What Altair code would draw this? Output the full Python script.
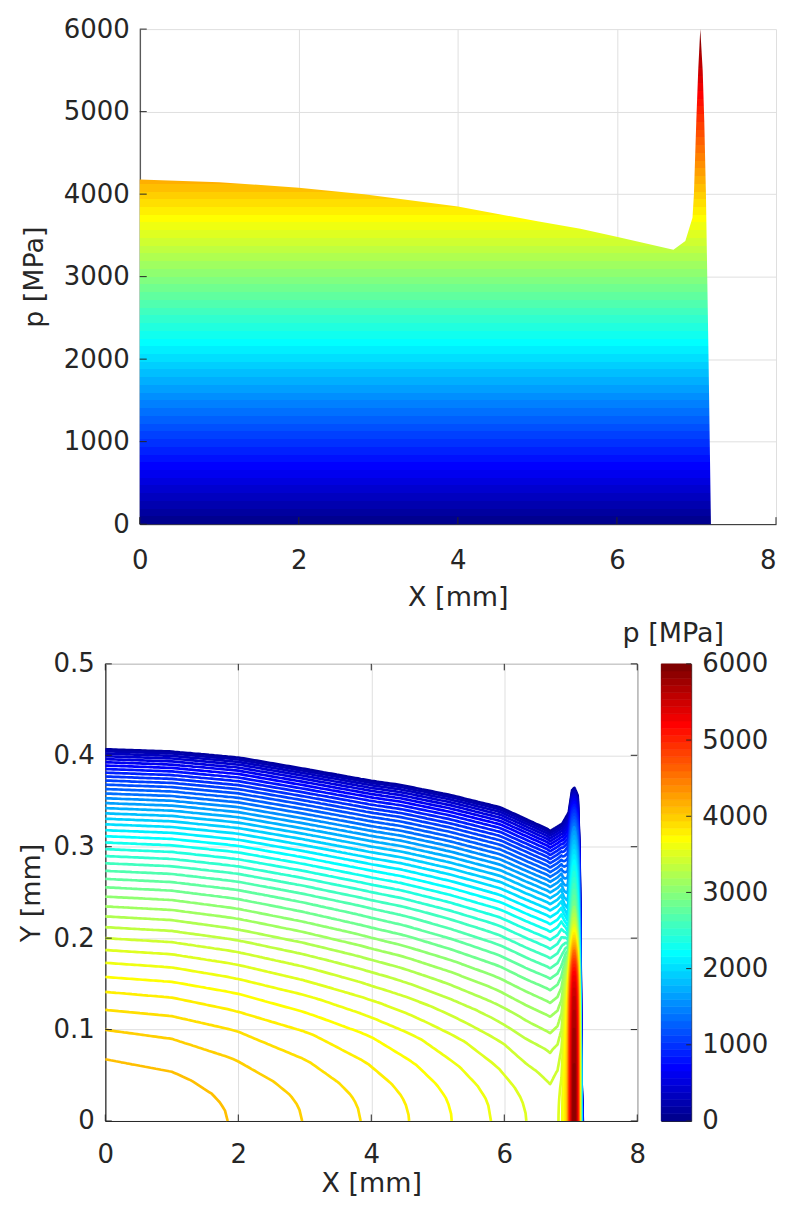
import numpy as np
import pandas as pd
import altair as alt

alt.data_transformers.disable_max_rows()

FONT = "DejaVu Sans"
INK = "#262626"
GRID = "#dfdfdf"

X_TICKS = [0, 2, 4, 6, 8]
P_TICKS = [0, 1000, 2000, 3000, 4000, 5000, 6000]
Y_TICKS = [0, 0.1, 0.2, 0.3, 0.4, 0.5]

# ---------------- upper panel: centre-line pressure p(X) [MPa] ----------------
TOP_X = [0.0, 1.0, 2.0, 2.82, 4.0, 5.0, 5.54, 6.01, 6.71, 6.86, 6.95, 6.968,
         6.998, 7.022, 7.048, 7.078, 7.098, 7.119, 7.152, 7.182]
TOP_P = [4178, 4145, 4077, 4000, 3851, 3670, 3580, 3480, 3327, 3431, 3714, 4000,
         4890, 5500, 6000, 5500, 4890, 4000, 2000, 0]

# ---------------- lower panel: pressure field p(X, Y) ----------------
# centre-line pressure implied by where the contours reach Y = 0
FIELD_X = [0.0, 1.0, 1.84, 2.96, 3.84, 4.57, 5.21, 5.80, 6.33, 6.69, 6.80, 6.86,
           6.90, 6.95, 6.97, 7.00, 7.025, 7.05, 7.075, 7.10, 7.12, 7.135, 7.15,
           7.165, 7.182]
FIELD_P = [4190, 4160, 4100, 4000, 3900, 3800, 3700, 3600, 3500, 3445, 3480, 3560,
           3700, 4000, 4400, 5100, 5600, 6000, 5600, 4900, 4100, 3300, 2300,
           1200, 0]
# contact half-width (outermost contour)
WIDTH_X = [0.0, 1.0, 2.0, 3.0, 4.0, 4.44, 5.19, 5.94, 6.645, 6.69, 6.87, 6.97,
           7.02, 7.055, 7.105, 7.13, 7.145, 7.16, 7.182]
WIDTH_Y = [0.408, 0.4055, 0.399, 0.3865, 0.3735, 0.369, 0.358, 0.3445, 0.321,
           0.3185, 0.3265, 0.341, 0.3645, 0.367, 0.359, 0.305, 0.215, 0.05, 0.0]
# cross-section at X = 0: Y position of each pressure level
SECTION_A_LEVEL = list(range(0, 4200, 100)) + [4150, 4173, 4182, 4188, 4190]
SECTION_A_Y = [0.408, 0.4066, 0.4045, 0.4019, 0.3990, 0.3958, 0.3924, 0.3888,
               0.3850, 0.3810, 0.3768, 0.3724, 0.3679, 0.3631, 0.3582, 0.3530,
               0.3477, 0.3422, 0.3365, 0.3306, 0.3245, 0.3181, 0.3115, 0.3046,
               0.2974, 0.2898, 0.2819, 0.2736, 0.2648, 0.2556, 0.2455, 0.2347,
               0.2238, 0.2120, 0.2000, 0.1870, 0.1730, 0.1575, 0.1412, 0.1215,
               0.0997, 0.0675, 0.045, 0.030, 0.020, 0.010, 0.0]
SECTION_A_REF = (4190.0, 0.408)
# cross-section through the edge peak (X = 7.05)
SECTION_B_LEVEL = [0, 100, 500, 1000, 1500, 2000, 2300, 2600, 3000, 3500, 4000,
                   4500, 5000, 5300, 5600, 5800, 5900, 5970, 6000]
SECTION_B_Y = [0.367, 0.3645, 0.355, 0.340, 0.322, 0.297, 0.280, 0.260, 0.235,
               0.215, 0.200, 0.187, 0.172, 0.160, 0.140, 0.110, 0.080, 0.040, 0.0]
SECTION_B_REF = (6000.0, 0.367)
BLEND_X = [6.86, 6.97]
BLEND_W = [0.0, 1.0]
CONTOUR_LEVELS = list(range(100, 6000, 100))


def jet64():
    cols = []
    for i in range(1, 65):
        r = 0 if i <= 24 else (i - 24) / 16 if i <= 40 else 1 if i <= 55 else (72 - i) / 16
        g = 0 if i <= 8 else (i - 8) / 16 if i <= 24 else 1 if i <= 39 else (56 - i) / 16 if i <= 55 else 0
        b = (i + 8) / 16 if i <= 8 else 1 if i <= 23 else (40 - i) / 16 if i <= 39 else 0
        cols.append("#%02x%02x%02x" % (round(r * 255), round(g * 255), round(b * 255)))
    return cols


JET = jet64()

# ---------------- contour extraction ----------------
xs = np.round(np.concatenate([np.arange(0.0, 6.6, 0.04), np.arange(6.6, 7.19, 0.004)]), 4)
pf = np.interp(xs, FIELD_X, FIELD_P)
bw = np.interp(xs, WIDTH_X, WIDTH_Y)
wb = np.interp(xs, BLEND_X, BLEND_W)
rows = []
piece = 0
for c in CONTOUR_LEVELS:
    inside = pf > c
    if not inside.any():
        continue
    safe = np.where(inside, pf, 1.0)
    ya = np.interp(c * SECTION_A_REF[0] / safe, SECTION_A_LEVEL, SECTION_A_Y) * bw / SECTION_A_REF[1]
    yb = np.interp(c * SECTION_B_REF[0] / safe, SECTION_B_LEVEL, SECTION_B_Y) * bw / SECTION_B_REF[1]
    yc = (1 - wb) * ya + wb * yb
    idx = np.flatnonzero(inside)
    brk = np.flatnonzero(np.diff(idx) > 1)
    starts = np.r_[idx[0], idx[brk + 1]]
    ends = np.r_[idx[brk], idx[-1]]
    for s, e in zip(starts, ends):
        pts = []
        if s > 0:
            x0, x1, p0, p1 = xs[s - 1], xs[s], pf[s - 1], pf[s]
            pts.append((x0 + (c - p0) / (p1 - p0) * (x1 - x0), 0.0))
        pts += [(xs[k], yc[k]) for k in range(s, e + 1)]
        if e < len(xs) - 1:
            x0, x1, p0, p1 = xs[e], xs[e + 1], pf[e], pf[e + 1]
            pts.append((x0 + (p0 - c) / (p0 - p1) * (x1 - x0), 0.0))
        for x, y in pts:
            rows.append({"piece": piece, "level": c, "x": round(float(x), 4), "y": round(float(y), 4)})
        piece += 1
cdf = pd.DataFrame(rows)

jet_scale = alt.Scale(type="quantize", domain=[0, 6000], range=JET)

# ---------------- upper chart ----------------
TW, TH, XOFF = 672, 496, 34.5
x_top = alt.Scale(domain=[0, 8], range=[XOFF, TW], nice=False, zero=False)
y_top = alt.Scale(domain=[0, 6000], nice=False)
stops = []
for k, col in enumerate(JET):
    stops.append(alt.GradientStop(color=col, offset=k / 64))
    stops.append(alt.GradientStop(color=col, offset=(k + 1) / 64))
grad = alt.Gradient(gradient="linear", x1=0, x2=0, y1=1, y2=0, stops=stops)

top_df = pd.DataFrame({"x": TOP_X, "p": TOP_P})
area = alt.Chart(top_df).mark_area(fill=grad, interpolate="linear").encode(
    x=alt.X("x:Q", scale=x_top,
            axis=alt.Axis(values=X_TICKS, format="d", title="X [mm]", labelPadding=23,
                          titlePadding=12,
                          labelAlign={"expr": "datum.value == 8 ? 'right' : 'center'"})),
    y=alt.Y("p:Q", scale=y_top,
            axis=alt.Axis(values=P_TICKS, format="d", title="p [MPa]", offset=-XOFF,
                          labelPadding=10.5, titlePadding=15)),
)
top_tb = alt.Chart(pd.DataFrame({"x": X_TICKS})).mark_rule(color=INK, strokeWidth=1).encode(
    x=alt.X("x:Q", scale=x_top), y=alt.value(TH), y2=alt.value(TH - 7))
top_tl = alt.Chart(pd.DataFrame({"p": P_TICKS})).mark_rule(color=INK, strokeWidth=1).encode(
    y=alt.Y("p:Q", scale=y_top), x=alt.value(XOFF), x2=alt.value(XOFF + 7))
top = alt.layer(area, top_tb, top_tl).properties(width=TW, height=TH)

# ---------------- lower chart ----------------
BW, BH, TL = 533, 458, 6.5
x_bot = alt.Scale(domain=[0, 8], nice=False, zero=False)
y_bot = alt.Scale(domain=[0, 0.5], nice=False)
lines = alt.Chart(cdf).mark_line(strokeWidth=2.7, strokeJoin="round").encode(
    x=alt.X("x:Q", scale=x_bot,
            axis=alt.Axis(values=X_TICKS, format="d", title="X [mm]", labelPadding=21, titlePadding=3)),
    y=alt.Y("y:Q", scale=y_bot,
            axis=alt.Axis(values=Y_TICKS, format="~g", title="Y [mm]", labelPadding=11, titlePadding=8)),
    color=alt.Color("level:Q", scale=jet_scale, legend=None),
    detail="piece:N",
)
xt = pd.DataFrame({"x": X_TICKS})
yt = pd.DataFrame({"y": Y_TICKS})
b_tb = alt.Chart(xt).mark_rule(color=INK).encode(x=alt.X("x:Q", scale=x_bot), y=alt.value(BH), y2=alt.value(BH - TL))
b_tt = alt.Chart(xt).mark_rule(color=INK).encode(x=alt.X("x:Q", scale=x_bot), y=alt.value(0), y2=alt.value(TL))
b_tl = alt.Chart(yt).mark_rule(color=INK).encode(y=alt.Y("y:Q", scale=y_bot), x=alt.value(0), x2=alt.value(TL))
b_tr = alt.Chart(yt).mark_rule(color=INK).encode(y=alt.Y("y:Q", scale=y_bot), x=alt.value(BW), x2=alt.value(BW - TL))
bottom = alt.layer(lines, b_tb, b_tt, b_tl, b_tr).properties(
    width=BW, height=BH, view=alt.ViewBackground(stroke=INK, strokeWidth=1))

# ---------------- colour bar ----------------
CW = 30
cb = pd.DataFrame({"lo": [k * 6000 / 64 for k in range(64)],
                   "hi": [(k + 1) * 6000 / 64 for k in range(64)],
                   "mid": [(k + 0.5) * 6000 / 64 for k in range(64)]})
y_cb = alt.Scale(domain=[0, 6000], nice=False)
bar = alt.Chart(cb).mark_rect(strokeWidth=0.6).encode(
    x=alt.value(0), x2=alt.value(CW),
    y=alt.Y("lo:Q", scale=y_cb,
            axis=alt.Axis(orient="right", values=P_TICKS, format="d", title="",
                          labelPadding=10.5, grid=False, domain=False)),
    y2="hi:Q",
    color=alt.Color("mid:Q", scale=jet_scale, legend=None),
    stroke=alt.Stroke("mid:Q", scale=jet_scale, legend=None),
)
cb_t = alt.Chart(pd.DataFrame({"lo": P_TICKS})).mark_rule(color=INK).encode(
    y=alt.Y("lo:Q", scale=y_cb), x=alt.value(CW), x2=alt.value(CW - 5))
colorbar = alt.layer(bar, cb_t).properties(
    width=CW, height=BH,
    view=alt.ViewBackground(stroke=INK, strokeWidth=1),
    title=alt.TitleParams(text="p [MPa]", font=FONT, fontSize=27, fontWeight="normal",
                          color=INK, anchor="middle", frame="group", offset=3, dx=-3),
)

row = alt.hconcat(bottom, colorbar, spacing=24, bounds="flush")
chart = alt.vconcat(top, row, spacing=140, bounds="flush").properties(
    padding={"left": 8.5, "top": 6, "right": 0, "bottom": 0}
).configure_axis(
    labelFont=FONT, labelFontSize=26, labelColor=INK,
    titleFont=FONT, titleFontSize=27, titleFontWeight="normal", titleColor=INK,
    domainColor=INK, domainWidth=1, gridColor=GRID, gridWidth=1, grid=True,
    ticks=False, labelFlush=False, labelOverlap=False,
).configure_view(stroke="transparent")

chart.save("out.html", embed_options={"renderer": "svg", "actions": False})
